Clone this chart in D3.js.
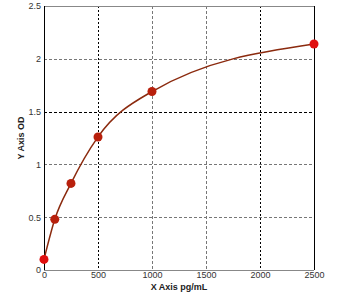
<!DOCTYPE html>
<html>
<head>
<meta charset="utf-8">
<script src="https://cdn.jsdelivr.net/npm/d3@7"></script>
<style>
  body { margin: 0; background: #fff; }
  text { font-family: "Liberation Sans", Arial, sans-serif; }
</style>
</head>
<body>
<div id="graf"></div>
<script>
// datos
var concentraciones = [0, 100, 250, 500, 1000, 2500]
var densidades = [0.1, 0.48, 0.82, 1.26, 1.69, 2.14]
var xTicks = [0, 500, 1000, 1500, 2000, 2500]
var yTicks = [0, 0.5, 1, 1.5, 2, 2.5]
var xTitulo = 'X Axis pg/mL'
var yTitulo = 'Y Axis OD'

ancho_total = 343
alto_total = 296
margins = { top: 6, left: 44, right: 29, bottom: 26 }
ancho = ancho_total - margins.left - margins.right
alto = alto_total - margins.top - margins.bottom

svg = d3.select('#graf').append('svg')
        .attr('width', ancho_total)
        .attr('height', alto_total)

g = svg.append('g')
        .attr('transform', `translate(${ margins.left }, ${ margins.top })`)

x = d3.scaleLinear().domain([0, 2500]).range([0, ancho])
y = d3.scaleLinear().domain([0, 2.5]).range([alto, 0])

// rejilla (algunas lineas salen mas oscuras en el original)
oscuraX = v => v === 500 || v === 2000
oscuraY = v => v === 1.5

g.selectAll('.gx')
  .data(xTicks.filter(d => d > 0 && d < 2500))
  .join('line')
    .attr('x1', d => Math.round(x(d)) + 0.5)
    .attr('x2', d => Math.round(x(d)) + 0.5)
    .attr('y1', 0)
    .attr('y2', alto)
    .attr('stroke', d => oscuraX(d) ? '#000' : '#777')
    .attr('stroke-dasharray', d => oscuraX(d) ? '2,2' : '3,2')

g.selectAll('.gy')
  .data(yTicks.filter(d => d > 0 && d < 2.5))
  .join('line')
    .attr('x1', 0)
    .attr('x2', ancho)
    .attr('y1', d => Math.round(y(d)) + 0.5)
    .attr('y2', d => Math.round(y(d)) + 0.5)
    .attr('stroke', d => oscuraY(d) ? '#000' : '#777')
    .attr('stroke-dasharray', d => oscuraY(d) ? '3,2' : '3,2')

// marco
g.append('line').attr('x1', 0).attr('x2', ancho).attr('y1', 0.5).attr('y2', 0.5).attr('stroke', '#888')
g.append('line').attr('x1', 0).attr('x2', ancho).attr('y1', alto + 0.5).attr('y2', alto + 0.5).attr('stroke', '#888')
g.append('line').attr('x1', 0.5).attr('x2', 0.5).attr('y1', 0).attr('y2', alto).attr('stroke', '#000')
g.append('line').attr('x1', ancho + 0.5).attr('x2', ancho + 0.5).attr('y1', 0).attr('y2', alto).attr('stroke', '#000')

// ejes (solo etiquetas)
xAxis = g.append('g')
          .attr('transform', `translate(0, ${ alto })`)
          .call(d3.axisBottom(x).tickValues(xTicks).tickSize(0).tickPadding(2).tickFormat(d3.format('d')))
yAxis = g.append('g')
          .call(d3.axisLeft(y).tickValues(yTicks).tickSize(0).tickPadding(3).tickFormat(d => d))
svg.selectAll('.domain').remove()
svg.selectAll('.tick text')
    .attr('font-size', 9)
    .attr('fill', '#333')
    .attr('font-family', '"Liberation Sans", Arial, sans-serif')

// titulos
svg.append('text')
    .attr('x', margins.left + ancho / 2)
    .attr('y', 290)
    .attr('text-anchor', 'middle')
    .attr('font-size', 9)
    .attr('font-weight', 'bold')
    .attr('fill', '#222')
    .text(xTitulo)

svg.append('text')
    .attr('transform', `translate(24, ${ margins.top + alto / 2 }) rotate(-90)`)
    .attr('text-anchor', 'middle')
    .attr('font-size', 9)
    .attr('font-weight', 'bold')
    .attr('fill', '#222')
    .text(yTitulo)

// curva de ajuste
datos = concentraciones.map((c, i) => ({ c: c, od: densidades[i] }))
lineaGen = d3.line()
              .x(d => x(d.c))
              .y(d => y(d.od))
              .curve(d3.curveMonotoneX)

g.append('path')
    .datum(datos)
    .attr('fill', 'none')
    .attr('stroke', '#8b2a0e')
    .attr('stroke-width', 1.5)
    .attr('d', lineaGen)

g.selectAll('circle')
  .data(datos)
  .join('circle')
    .attr('cx', d => x(d.c))
    .attr('cy', d => y(d.od))
    .attr('r', 4.5)
    .attr('fill', (d, i) => i === 0 || i === 5 ? '#e01010' : '#b8200c')
</script>
</body>
</html>
